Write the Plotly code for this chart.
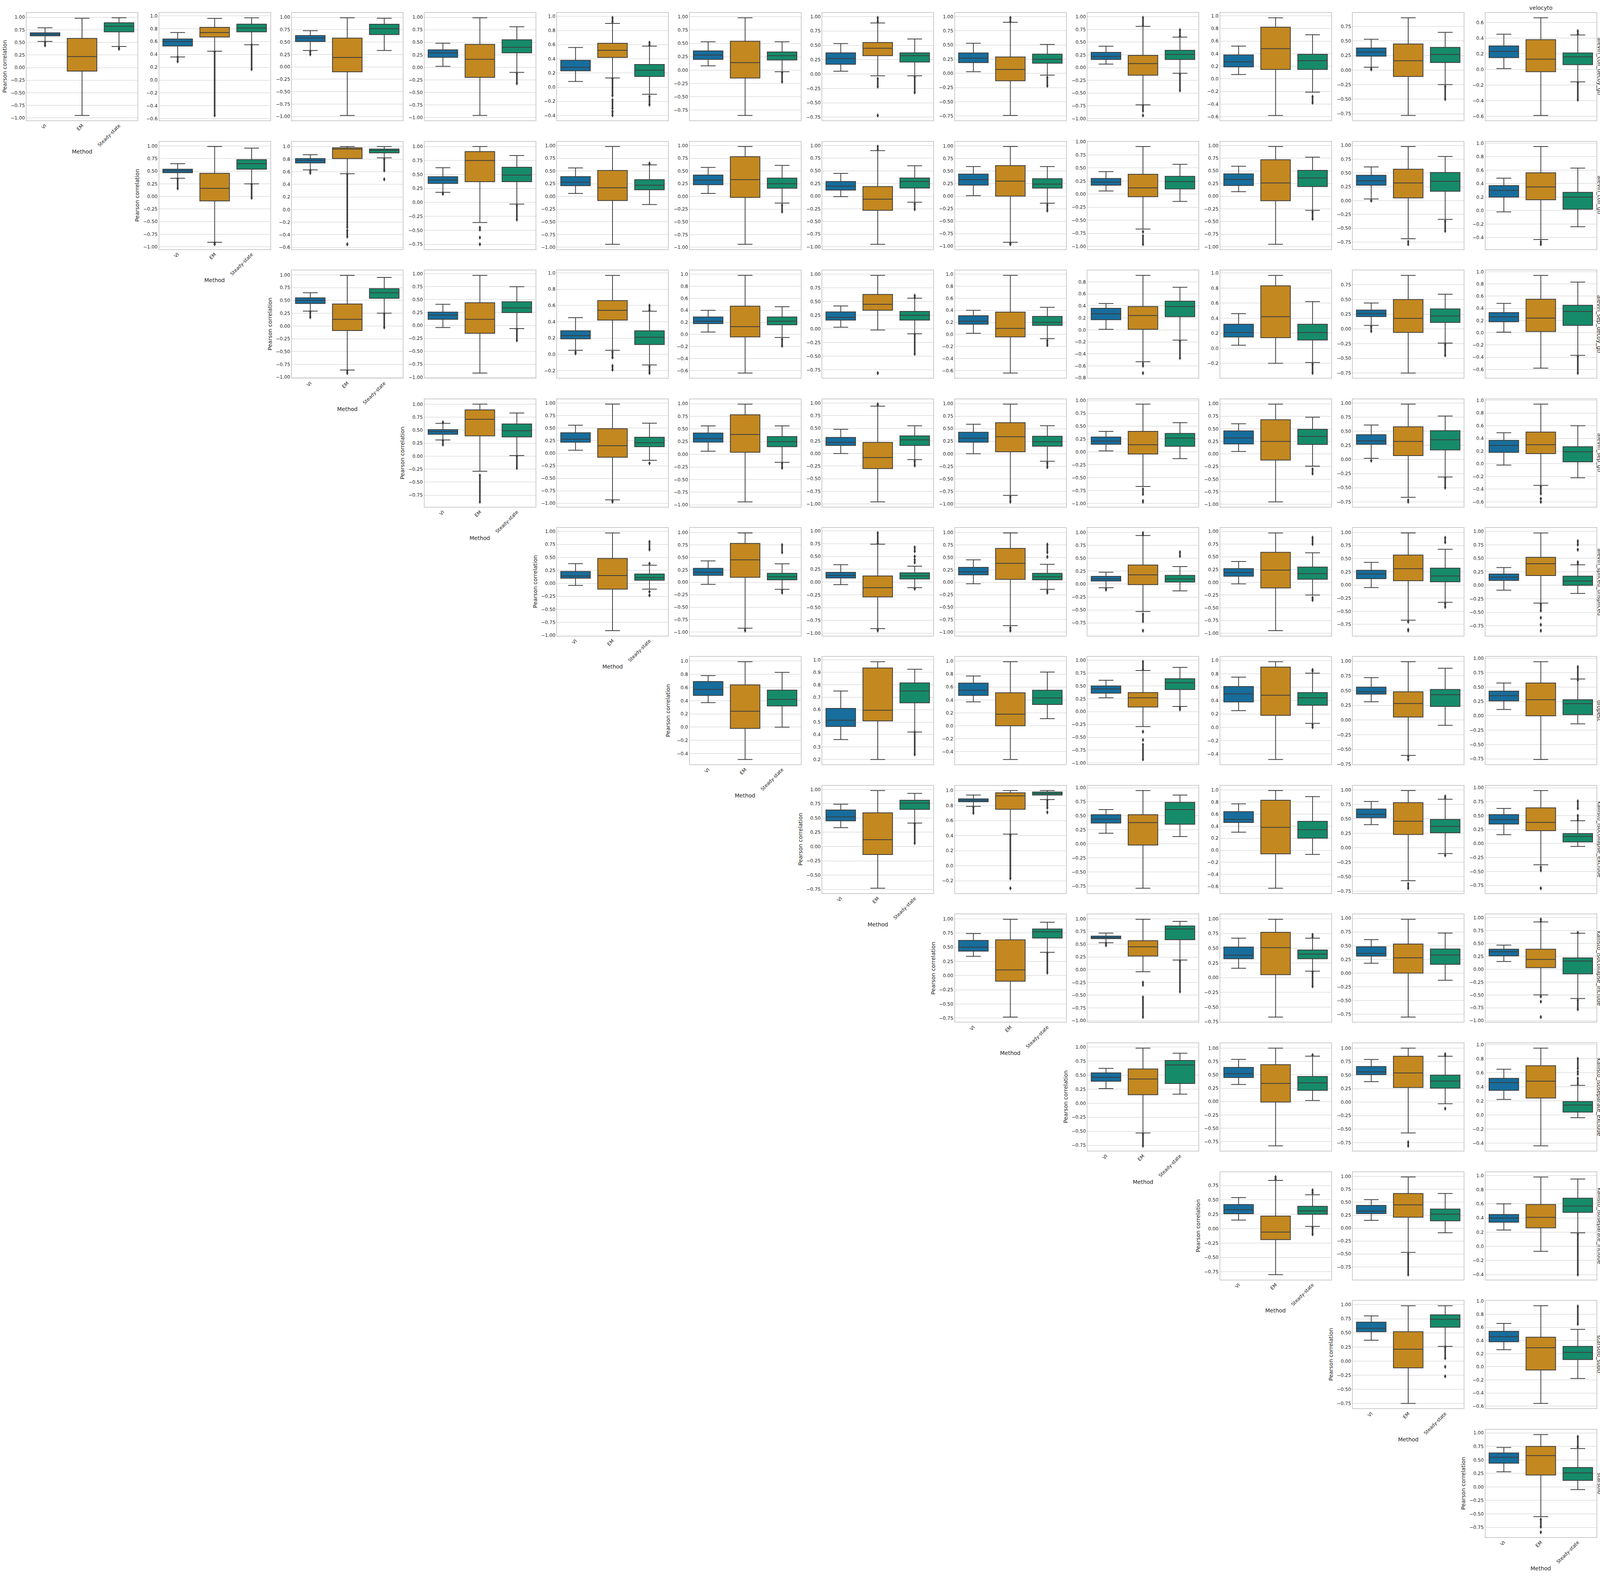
import math
import plotly.graph_objects as go

methods = ["VI", "EM", "Steady-state"]
colors = ["#176d9c", "#c38820", "#168b6a"]
col_title = "velocyto"

# one entry per panel (left to right), each panel = VI, EM, Steady-state
# box = (lower whisker, q1, median, q3, upper whisker)
alevin_coll_decoy_gtr = [
    [(0.52, 0.63, 0.66, 0.69, 0.79), (-0.95, -0.07, 0.22, 0.58, 0.98), (0.42, 0.71, 0.82, 0.89, 0.99)],
    [(0.36, 0.53, 0.60, 0.64, 0.74), (0.45, 0.67, 0.74, 0.82, 0.96), (0.55, 0.75, 0.81, 0.87, 0.97)],
    [(0.33, 0.51, 0.58, 0.63, 0.73), (-0.98, -0.10, 0.19, 0.58, 0.99), (0.33, 0.65, 0.77, 0.86, 0.98)],
    [(0.02, 0.20, 0.29, 0.35, 0.48), (-0.96, -0.20, 0.16, 0.46, 0.99), (-0.10, 0.29, 0.40, 0.55, 0.81)],
    [(0.08, 0.23, 0.28, 0.38, 0.56), (0.13, 0.42, 0.52, 0.62, 0.90), (-0.10, 0.15, 0.24, 0.32, 0.58)],
    [(0.08, 0.20, 0.28, 0.36, 0.53), (-0.85, -0.15, 0.14, 0.54, 0.98), (-0.03, 0.19, 0.27, 0.34, 0.53)],
    [(0.05, 0.17, 0.27, 0.37, 0.53), (-0.03, 0.32, 0.45, 0.55, 0.89), (-0.03, 0.21, 0.32, 0.37, 0.61)],
    [(0.03, 0.19, 0.27, 0.36, 0.53), (-0.74, -0.13, 0.07, 0.29, 0.90), (-0.03, 0.18, 0.25, 0.34, 0.51)],
    [(0.07, 0.16, 0.22, 0.30, 0.42), (-0.73, -0.15, 0.08, 0.24, 0.81), (-0.11, 0.16, 0.26, 0.34, 0.60)],
    [(0.07, 0.19, 0.27, 0.38, 0.52), (-0.58, 0.15, 0.48, 0.82, 0.97), (-0.21, 0.15, 0.29, 0.39, 0.70)],
    [(0.05, 0.24, 0.31, 0.38, 0.53), (-0.78, -0.11, 0.16, 0.45, 0.90), (-0.25, 0.13, 0.27, 0.39, 0.65)],
    [(0.01, 0.15, 0.23, 0.30, 0.45), (-0.59, -0.03, 0.13, 0.38, 0.66), (-0.16, 0.06, 0.16, 0.21, 0.44)],
]
# outliers: (from, to) runs of flier points per method
alevin_coll_decoy_gtr_out = [
    [[(0.44, 0.50)], [], [(0.37, 0.39)]],
    [[(0.29, 0.36)], [(-0.55, 0.44)], [(0.17, 0.55)]],
    [[(0.25, 0.31)], [], []],
    [[], [], [(-0.32, -0.12)]],
    [[], [(0.92, 0.98), (-0.12, 0.12), (-0.30, -0.18), (-0.40, -0.34)], [(0.59, 0.63), (-0.25, -0.13)]],
    [[], [], [(-0.22, -0.05)]],
    [[], [(0.91, 0.98), (-0.22, -0.08), (-0.72, -0.72)], [(-0.32, -0.05)]],
    [[], [(0.91, 0.98)], [(-0.22, -0.07)]],
    [[], [(0.83, 0.98), (-0.85, -0.75), (-0.94, -0.94)], [(0.62, 0.74), (-0.45, -0.13)]],
    [[], [], [(-0.38, -0.28)]],
    [[(0.01, 0.03)], [], [(-0.50, -0.28)]],
    [[], [], [(0.45, 0.49), (-0.39, -0.17)]],
]

alevin_coll_gtr = [
    [(0.36, 0.47, 0.51, 0.54, 0.65), (-0.91, -0.09, 0.16, 0.46, 0.99), (0.25, 0.54, 0.65, 0.73, 0.96)],
    [(0.63, 0.74, 0.78, 0.81, 0.87), (0.57, 0.81, 0.96, 0.98, 1.00), (0.82, 0.90, 0.94, 0.96, 1.00)],
    [(0.18, 0.34, 0.40, 0.46, 0.62), (-0.36, 0.37, 0.75, 0.91, 1.00), (-0.03, 0.37, 0.49, 0.63, 0.84)],
    [(0.06, 0.21, 0.28, 0.39, 0.56), (-0.94, -0.08, 0.17, 0.51, 0.98), (-0.16, 0.13, 0.22, 0.33, 0.62)],
    [(0.06, 0.23, 0.32, 0.42, 0.57), (-0.94, -0.02, 0.33, 0.78, 0.98), (-0.13, 0.16, 0.25, 0.36, 0.61)],
    [(-0.01, 0.12, 0.20, 0.29, 0.45), (-0.95, -0.28, -0.06, 0.19, 0.90), (-0.12, 0.16, 0.29, 0.36, 0.60)],
    [(0.01, 0.22, 0.33, 0.44, 0.59), (-0.92, 0.00, 0.30, 0.61, 0.99), (-0.14, 0.16, 0.24, 0.35, 0.59)],
    [(0.06, 0.17, 0.23, 0.30, 0.43), (-0.67, -0.05, 0.12, 0.38, 0.91), (-0.14, 0.10, 0.24, 0.34, 0.57)],
    [(0.09, 0.21, 0.33, 0.44, 0.59), (-0.95, -0.09, 0.26, 0.72, 0.98), (-0.28, 0.19, 0.36, 0.51, 0.77)],
    [(0.03, 0.28, 0.36, 0.46, 0.61), (-0.69, 0.05, 0.32, 0.57, 0.98), (-0.34, 0.17, 0.35, 0.51, 0.80)],
    [(-0.02, 0.20, 0.30, 0.37, 0.48), (-0.43, 0.16, 0.35, 0.56, 0.95), (-0.24, 0.02, 0.20, 0.27, 0.63)],
]
alevin_coll_gtr_out = [
    [[(0.16, 0.35)], [(-0.95, -0.92)], [(-0.03, 0.24)]],
    [[(0.58, 0.62)], [(-0.28, 0.56), (-0.43, -0.33), (-0.55, -0.55)], [(0.62, 0.80), (0.48, 0.48)]],
    [[(0.15, 0.17)], [(-0.49, -0.45), (-0.63, -0.63), (-0.75, -0.75)], [(-0.31, -0.05)]],
    [[], [], [(0.63, 0.65)]],
    [[], [], [(-0.30, -0.17)]],
    [[], [(0.92, 0.98)], [(-0.26, -0.15)]],
    [[], [(-0.96, -0.94)], [(-0.29, -0.17)]],
    [[], [(-0.72, -0.72), (-0.96, -0.80)], []],
    [[], [], [(-0.45, -0.31)]],
    [[(0.00, 0.00)], [(-0.79, -0.74)], [(-0.55, -0.37)]],
    [[], [(-0.50, -0.46)], []],
]

alevin_sep_decoy_gtr = [
    [(0.29, 0.44, 0.50, 0.55, 0.65), (-0.86, -0.09, 0.13, 0.43, 0.99), (0.25, 0.54, 0.65, 0.73, 0.95)],
    [(-0.04, 0.12, 0.20, 0.26, 0.41), (-0.92, -0.15, 0.12, 0.44, 0.97), (-0.06, 0.25, 0.34, 0.46, 0.75)],
    [(0.05, 0.19, 0.23, 0.29, 0.45), (0.05, 0.42, 0.54, 0.66, 0.97), (-0.13, 0.12, 0.21, 0.29, 0.53)],
    [(0.04, 0.18, 0.22, 0.29, 0.40), (-0.64, -0.04, 0.13, 0.47, 0.98), (-0.05, 0.16, 0.22, 0.29, 0.46)],
    [(0.03, 0.16, 0.21, 0.31, 0.42), (-0.02, 0.34, 0.45, 0.63, 0.98), (-0.09, 0.16, 0.25, 0.32, 0.56)],
    [(0.02, 0.17, 0.22, 0.31, 0.40), (-0.64, -0.04, 0.10, 0.37, 0.98), (-0.07, 0.15, 0.20, 0.30, 0.45)],
    [(0.01, 0.17, 0.27, 0.36, 0.44), (-0.53, 0.01, 0.24, 0.39, 0.91), (-0.17, 0.22, 0.39, 0.48, 0.71)],
    [(0.04, 0.15, 0.21, 0.32, 0.46), (-0.20, 0.14, 0.42, 0.83, 0.97), (-0.19, 0.11, 0.21, 0.32, 0.62)],
    [(0.06, 0.21, 0.26, 0.32, 0.44), (-0.75, -0.06, 0.18, 0.50, 0.91), (-0.24, 0.11, 0.22, 0.34, 0.59)],
    [(0.01, 0.18, 0.26, 0.33, 0.48), (-0.58, 0.02, 0.24, 0.55, 0.94), (-0.37, 0.12, 0.35, 0.45, 0.83)],
]
alevin_sep_decoy_gtr_out = [
    [[(0.17, 0.28)], [(-0.92, -0.87)], [(-0.03, 0.24)]],
    [[], [], [(-0.29, -0.07)]],
    [[(0.01, 0.03)], [(-0.04, 0.03), (-0.19, -0.14)], [(0.54, 0.60), (-0.23, -0.15)]],
    [[], [], [(-0.19, -0.08)]],
    [[], [(-0.81, -0.81)], [(0.57, 0.61), (-0.46, -0.10)]],
    [[], [], [(-0.18, -0.10)]],
    [[], [(-0.60, -0.56), (-0.72, -0.72)], [(-0.47, -0.19)]],
    [[], [], [(-0.33, -0.21)]],
    [[(-0.04, 0.04)], [], [(-0.45, -0.26)]],
    [[], [], [(-0.66, -0.39)]],
]

alevin_sep_gtr = [
    [(0.31, 0.42, 0.47, 0.51, 0.63), (-0.29, 0.39, 0.71, 0.89, 1.00), (0.01, 0.37, 0.49, 0.62, 0.83)],
    [(0.06, 0.22, 0.28, 0.41, 0.56), (-0.93, -0.08, 0.15, 0.49, 0.98), (-0.14, 0.13, 0.21, 0.32, 0.60)],
    [(0.06, 0.24, 0.31, 0.42, 0.56), (-0.94, 0.04, 0.39, 0.78, 0.99), (-0.16, 0.15, 0.25, 0.35, 0.56)],
    [(0.00, 0.16, 0.22, 0.32, 0.48), (-0.96, -0.30, -0.08, 0.22, 0.94), (-0.12, 0.16, 0.27, 0.35, 0.55)],
    [(0.00, 0.23, 0.31, 0.43, 0.59), (-0.83, 0.04, 0.34, 0.62, 0.99), (-0.15, 0.15, 0.24, 0.35, 0.56)],
    [(0.02, 0.15, 0.21, 0.29, 0.40), (-0.67, -0.04, 0.14, 0.40, 0.93), (-0.13, 0.11, 0.27, 0.36, 0.57)],
    [(0.05, 0.20, 0.32, 0.46, 0.60), (-0.95, -0.12, 0.25, 0.68, 0.99), (-0.24, 0.19, 0.35, 0.49, 0.73)],
    [(0.02, 0.27, 0.33, 0.44, 0.61), (-0.67, 0.07, 0.32, 0.58, 0.98), (-0.31, 0.17, 0.35, 0.51, 0.77)],
    [(-0.02, 0.18, 0.29, 0.37, 0.49), (-0.34, 0.16, 0.30, 0.50, 0.94), (-0.22, 0.03, 0.19, 0.27, 0.60)],
]
alevin_sep_gtr_out = [
    [[(0.22, 0.30), (0.65, 0.65)], [(-0.88, -0.37)], [(-0.23, 0.00)]],
    [[], [(-0.97, -0.95)], [(-0.20, -0.20)]],
    [[], [], [(-0.27, -0.18)]],
    [[], [(0.96, 0.98)], [(-0.24, -0.15)]],
    [[], [(-0.96, -0.86)], [(-0.27, -0.18)]],
    [[], [(-0.82, -0.72), (-0.97, -0.95)], []],
    [[], [], [(-0.39, -0.30)]],
    [[(-0.02, -0.02)], [(-0.75, -0.72)], [(-0.50, -0.33)]],
    [[], [(-0.47, -0.36), (-0.55, -0.55), (-0.60, -0.60)], []],
]

alevin_spliced_unspliced = [
    [(-0.04, 0.10, 0.14, 0.23, 0.38), (-0.91, -0.11, 0.15, 0.48, 0.97), (-0.11, 0.06, 0.11, 0.18, 0.35)],
    [(-0.04, 0.14, 0.20, 0.28, 0.43), (-0.92, 0.10, 0.45, 0.78, 0.99), (-0.14, 0.05, 0.11, 0.18, 0.37)],
    [(-0.05, 0.08, 0.13, 0.19, 0.34), (-0.91, -0.29, -0.11, 0.12, 0.74), (-0.11, 0.06, 0.12, 0.18, 0.31)],
    [(-0.03, 0.15, 0.21, 0.30, 0.45), (-0.87, 0.06, 0.38, 0.68, 0.99), (-0.14, 0.05, 0.11, 0.18, 0.36)],
    [(-0.07, 0.06, 0.10, 0.15, 0.23), (-0.53, -0.01, 0.18, 0.37, 0.94), (-0.13, 0.04, 0.10, 0.17, 0.34)],
    [(-0.03, 0.12, 0.19, 0.27, 0.41), (-0.95, -0.11, 0.24, 0.59, 0.97), (-0.25, 0.06, 0.17, 0.30, 0.58)],
    [(-0.05, 0.12, 0.21, 0.28, 0.43), (-0.67, 0.08, 0.31, 0.57, 0.99), (-0.33, 0.06, 0.17, 0.32, 0.68)],
    [(-0.09, 0.09, 0.15, 0.21, 0.33), (-0.33, 0.18, 0.40, 0.52, 0.97), (-0.15, 0.00, 0.08, 0.17, 0.38)],
]
alevin_spliced_unspliced_out = [
    [[], [], [(0.38, 0.38), (0.65, 0.80), (-0.16, -0.16), (-0.23, -0.23)]],
    [[], [(-0.97, -0.95)], [(0.60, 0.75), (-0.21, -0.16)]],
    [[], [(0.76, 0.96), (-0.95, -0.93)], [(0.38, 0.44), (0.50, 0.50), (0.60, 0.68), (-0.13, -0.13)]],
    [[], [(-0.97, -0.91)], [(0.51, 0.51), (0.60, 0.76), (-0.21, -0.17)]],
    [[(-0.11, -0.09)], [(0.95, 0.99), (-0.72, -0.58), (-0.90, -0.90)], [(0.54, 0.62)]],
    [[], [], [(0.75, 0.88), (-0.35, -0.30)]],
    [[], [(-0.70, -0.70), (-0.87, -0.85)], [(0.81, 0.90), (-0.42, -0.35)]],
    [[], [(-0.47, -0.35), (-0.60, -0.60), (-0.73, -0.73), (-0.84, -0.84)],
     [(0.40, 0.43), (0.66, 0.66), (0.75, 0.82)]],
]

dropest = [
    [(0.37, 0.48, 0.57, 0.69, 0.78), (-0.49, -0.02, 0.24, 0.64, 0.99), (0.00, 0.32, 0.42, 0.56, 0.83)],
    [(0.36, 0.465, 0.515, 0.61, 0.75), (0.20, 0.51, 0.595, 0.935, 0.985), (0.42, 0.655, 0.75, 0.815, 0.925)],
    [(0.37, 0.47, 0.55, 0.66, 0.77), (-0.52, 0.00, 0.18, 0.51, 0.99), (0.11, 0.33, 0.43, 0.55, 0.83)],
    [(0.27, 0.36, 0.44, 0.50, 0.61), (-0.29, 0.09, 0.27, 0.37, 0.80), (0.10, 0.43, 0.56, 0.64, 0.86)],
    [(0.25, 0.38, 0.50, 0.61, 0.75), (-0.48, 0.18, 0.48, 0.90, 0.98), (0.06, 0.33, 0.44, 0.52, 0.81)],
    [(0.31, 0.44, 0.48, 0.56, 0.72), (-0.60, 0.05, 0.28, 0.48, 0.99), (-0.09, 0.23, 0.43, 0.52, 0.88)],
    [(0.11, 0.26, 0.35, 0.43, 0.57), (-0.76, 0.00, 0.28, 0.57, 0.94), (-0.14, 0.02, 0.21, 0.28, 0.64)],
]
dropest_out = [
    [[], [], []],
    [[], [], [(0.24, 0.42)]],
    [[], [], []],
    [[], [(0.82, 0.97), (-0.39, -0.39), (-0.55, -0.55), (-0.93, -0.64)], [(0.04, 0.08)]],
    [[], [], [(0.84, 0.86), (0.00, 0.04)]],
    [[], [(-0.62, -0.62), (-0.67, -0.67)], []],
    [[], [], [(0.62, 0.85)]],
]

kallisto_isocollapse_exclude = [
    [(0.33, 0.45, 0.52, 0.64, 0.74), (-0.73, -0.14, 0.12, 0.59, 0.98), (0.41, 0.65, 0.76, 0.81, 0.93)],
    [(0.79, 0.85, 0.87, 0.89, 0.94), (0.42, 0.75, 0.93, 0.97, 1.00), (0.88, 0.94, 0.96, 0.98, 1.00)],
    [(0.19, 0.37, 0.44, 0.52, 0.61), (-0.79, -0.02, 0.38, 0.52, 0.95), (0.13, 0.35, 0.61, 0.74, 0.87)],
    [(0.30, 0.46, 0.51, 0.64, 0.77), (-0.63, -0.06, 0.38, 0.83, 0.99), (-0.07, 0.20, 0.34, 0.48, 0.89)],
    [(0.40, 0.52, 0.58, 0.67, 0.80), (-0.57, 0.23, 0.46, 0.78, 0.99), (-0.10, 0.26, 0.37, 0.49, 0.84)],
    [(0.16, 0.35, 0.43, 0.52, 0.63), (-0.38, 0.23, 0.38, 0.64, 0.95), (-0.05, 0.03, 0.13, 0.18, 0.41)],
]
kallisto_isocollapse_exclude_out = [
    [[], [], [(0.06, 0.40)]],
    [[(0.70, 0.78)], [(-0.17, 0.41), (-0.30, -0.30)], [(0.77, 0.87), (0.71, 0.71)]],
    [[], [], []],
    [[], [], []],
    [[], [(-0.70, -0.62)], [(0.86, 0.89), (-0.13, -0.13)]],
    [[], [(-0.48, -0.42), (-0.80, -0.80)], [(0.42, 0.50), (0.63, 0.76)]],
]

kallisto_isocollapse_include = [
    [(0.34, 0.43, 0.50, 0.62, 0.74), (-0.73, -0.10, 0.10, 0.63, 0.99), (0.41, 0.66, 0.77, 0.82, 0.94)],
    [(0.53, 0.61, 0.63, 0.66, 0.72), (-0.04, 0.27, 0.45, 0.57, 0.99), (0.19, 0.59, 0.80, 0.86, 0.95)],
    [(0.16, 0.32, 0.38, 0.52, 0.67), (-0.67, 0.05, 0.51, 0.77, 0.99), (0.11, 0.32, 0.40, 0.47, 0.67)],
    [(0.18, 0.31, 0.36, 0.48, 0.61), (-0.80, 0.00, 0.28, 0.53, 0.98), (-0.13, 0.16, 0.33, 0.44, 0.73)],
    [(0.15, 0.26, 0.34, 0.39, 0.47), (-0.50, 0.03, 0.19, 0.39, 0.92), (-0.57, -0.09, 0.16, 0.22, 0.70)],
]
kallisto_isocollapse_include_out = [
    [[], [], [(0.05, 0.40)]],
    [[(0.48, 0.52)], [(-0.30, -0.25), (-0.93, -0.54)], [(-0.43, 0.17)]],
    [[], [], [(0.69, 0.73), (-0.15, 0.10)]],
    [[], [], []],
    [[], [(0.93, 0.97), (-0.53, -0.53), (-0.63, -0.63), (-0.93, -0.93)], [(0.71, 0.71), (-0.78, -0.60)]],
]

kallisto_isoseparate_exclude = [
    [(0.26, 0.39, 0.46, 0.54, 0.62), (-0.53, 0.15, 0.43, 0.61, 0.98), (0.16, 0.35, 0.68, 0.76, 0.89)],
    [(0.32, 0.45, 0.52, 0.64, 0.79), (-0.83, -0.01, 0.34, 0.69, 1.00), (0.02, 0.21, 0.35, 0.47, 0.85)],
    [(0.38, 0.51, 0.56, 0.66, 0.79), (-0.57, 0.27, 0.54, 0.85, 1.00), (-0.03, 0.26, 0.39, 0.50, 0.85)],
    [(0.22, 0.35, 0.46, 0.52, 0.65), (-0.44, 0.24, 0.48, 0.70, 0.95), (-0.04, 0.04, 0.14, 0.19, 0.42)],
]
kallisto_isoseparate_exclude_out = [
    [[], [(-0.76, -0.55)], []],
    [[], [], [(0.87, 0.87)]],
    [[], [(-0.81, -0.74)], [(0.86, 0.89), (-0.12, -0.12)]],
    [[], [], [(0.44, 0.52), (0.58, 0.62), (0.66, 0.80)]],
]

kallisto_isoseparate_include = [
    [(0.15, 0.26, 0.33, 0.42, 0.54), (-0.80, -0.19, -0.06, 0.22, 0.84), (0.04, 0.25, 0.31, 0.39, 0.59)],
    [(0.15, 0.28, 0.33, 0.44, 0.55), (-0.47, 0.21, 0.45, 0.67, 0.99), (-0.09, 0.14, 0.27, 0.37, 0.67)],
    [(0.23, 0.34, 0.40, 0.45, 0.60), (-0.07, 0.26, 0.41, 0.59, 0.98), (0.19, 0.48, 0.57, 0.68, 0.95)],
]
kallisto_isoseparate_include_out = [
    [[], [(0.86, 0.90)], [(0.62, 0.67), (-0.10, 0.02)]],
    [[], [(-0.90, -0.50)], []],
    [[], [], [(-0.40, 0.17)]],
]

starsolo_subtr = [
    [(0.37, 0.52, 0.58, 0.69, 0.80), (-0.75, -0.12, 0.21, 0.52, 0.98), (0.26, 0.60, 0.74, 0.82, 0.98)],
    [(0.26, 0.38, 0.46, 0.54, 0.66), (-0.56, -0.05, 0.29, 0.45, 0.93), (-0.18, 0.11, 0.22, 0.31, 0.57)],
]
starsolo_subtr_out = [
    [[], [], [(0.05, 0.25), (-0.10, -0.10), (-0.27, -0.27)]],
    [[], [], [(0.65, 0.92)]],
]

starsolo = [
    [(0.28, 0.44, 0.55, 0.63, 0.73), (-0.55, 0.22, 0.58, 0.75, 0.97), (-0.05, 0.12, 0.26, 0.36, 0.71)],
]
starsolo_out = [
    [[], [(-0.74, -0.60), (-0.84, -0.84)], [(0.74, 0.93)]],
]

rows = [
    ("alevin_coll_decoy_gtr", alevin_coll_decoy_gtr, alevin_coll_decoy_gtr_out),
    ("alevin_coll_gtr", alevin_coll_gtr, alevin_coll_gtr_out),
    ("alevin_sep_decoy_gtr", alevin_sep_decoy_gtr, alevin_sep_decoy_gtr_out),
    ("alevin_sep_gtr", alevin_sep_gtr, alevin_sep_gtr_out),
    ("alevin_spliced_unspliced", alevin_spliced_unspliced, alevin_spliced_unspliced_out),
    ("dropest", dropest, dropest_out),
    ("kallisto_isocollapse_exclude", kallisto_isocollapse_exclude, kallisto_isocollapse_exclude_out),
    ("kallisto_isocollapse_include", kallisto_isocollapse_include, kallisto_isocollapse_include_out),
    ("kallisto_isoseparate_exclude", kallisto_isoseparate_exclude, kallisto_isoseparate_exclude_out),
    ("kallisto_isoseparate_include", kallisto_isoseparate_include, kallisto_isoseparate_include_out),
    ("starsolo_subtr", starsolo_subtr, starsolo_subtr_out),
    ("starsolo", starsolo, starsolo_out),
]

W, H = 4110, 4036
PW, PH = 284, 276          # panel size in px
DX, DY = 339.5, 330.7      # panel pitch
X0, Y0 = 68, 27            # first panel top-left
TXT = "#262626"
EDGE = "#3d3d3d"
FONT = "DejaVu Sans"


def px(x):
    return x / W


def py(y):
    return 1 - y / H


def nice_step(span):
    # like matplotlib's MaxNLocator(nbins=9, steps=[1, 2, 2.5, 5, 10])
    raw = span / 9
    scale = 10 ** math.floor(math.log10(raw))
    for s in [1, 2, 2.5, 5, 10]:
        if s * scale >= raw - 1e-12:
            return s * scale, (2 if s == 2.5 else 1)
    return 10 * scale, 1


fig = go.Figure()
annotations = []
layout = {}
n = 0
for i, (rname, stats, fliers) in enumerate(rows):
    for k, (panel, outl) in enumerate(zip(stats, fliers)):
        j = i + k
        n += 1
        sfx = "" if n == 1 else str(n)
        xa, ya = "x" + sfx, "y" + sfx
        left, top = X0 + DX * j, Y0 + DY * i

        vals = [v for b in panel for v in b] + [v for m in outl for seg in m for v in seg]
        lo, hi = min(vals), max(vals)
        pad = 0.05 * (hi - lo)
        rng = [lo - pad, hi + pad]
        step, dec = nice_step(rng[1] - rng[0])

        for m, b, c in zip(methods, panel, colors):
            fig.add_trace(go.Box(
                x=[m], lowerfence=[b[0]], q1=[b[1]], median=[b[2]], q3=[b[3]], upperfence=[b[4]],
                fillcolor=c, line=dict(color=EDGE, width=2), width=0.8, whiskerwidth=0.5,
                boxpoints=False, showlegend=False, hoverinfo="skip", xaxis=xa, yaxis=ya))

        fx, fy = [], []
        for m, segs in zip(methods, outl):
            for a, b in segs:
                fx += [m, m, None]
                fy += [a, b, None]
        if fx:
            fig.add_trace(go.Scatter(
                x=fx, y=fy, mode="lines+markers", showlegend=False, hoverinfo="skip",
                line=dict(color=EDGE, width=4),
                marker=dict(symbol="diamond-tall", size=8, color=EDGE),
                xaxis=xa, yaxis=ya))

        diag = k == 0
        layout["xaxis" + sfx] = dict(
            domain=[px(left), px(left + PW)], anchor=ya, type="category",
            categoryorder="array", categoryarray=methods, range=[-0.5, 2.5],
            showgrid=False, zeroline=False, showline=True, mirror=True,
            linecolor="#cccccc", linewidth=1.5, ticks="",
            showticklabels=diag, tickangle=-45,
            tickfont=dict(family=FONT, size=12, color=TXT))
        layout["yaxis" + sfx] = dict(
            domain=[py(top + PH), py(top)], anchor=xa, range=rng,
            tick0=0, dtick=step, tickformat="." + str(dec) + "f",
            showgrid=True, gridcolor="#cccccc", gridwidth=1, zeroline=False,
            showline=True, mirror=True, linecolor="#cccccc", linewidth=1.5, ticks="",
            tickfont=dict(family=FONT, size=12, color=TXT))

        if diag:
            annotations.append(dict(
                text="Pearson correlation", x=px(left - 56), y=py(top + PH / 2),
                xref="paper", yref="paper", textangle=-90, showarrow=False,
                xanchor="center", yanchor="middle", font=dict(family=FONT, size=14, color=TXT)))
            annotations.append(dict(
                text="Method", x=px(left + PW / 2), y=py(top + PH + 80),
                xref="paper", yref="paper", showarrow=False,
                xanchor="center", yanchor="middle", font=dict(family=FONT, size=14, color=TXT)))
        if j == 11:
            annotations.append(dict(
                text=rname, x=px(left + PW + 8), y=py(top + PH / 2),
                xref="paper", yref="paper", textangle=90, showarrow=False,
                xanchor="center", yanchor="middle", font=dict(family=FONT, size=14, color=TXT)))
            if i == 0:
                annotations.append(dict(
                    text=col_title, x=px(left + PW / 2), y=py(top - 13),
                    xref="paper", yref="paper", showarrow=False,
                    xanchor="center", yanchor="middle", font=dict(family=FONT, size=14, color=TXT)))

fig.update_layout(
    width=W, height=H, margin=dict(l=0, r=0, t=0, b=0),
    paper_bgcolor="white", plot_bgcolor="white",
    font=dict(family=FONT, size=12, color=TXT),
    boxmode="overlay", annotations=annotations, **layout)

# drop the page's default body margin and scrollbars so the full canvas is on screen
page_fix = ("document.body.style.margin='0px';"
            "document.body.style.overflow='hidden';"
            "document.documentElement.style.overflow='hidden';")
fig.write_html("out.html", post_script=page_fix, config={"displayModeBar": False})
